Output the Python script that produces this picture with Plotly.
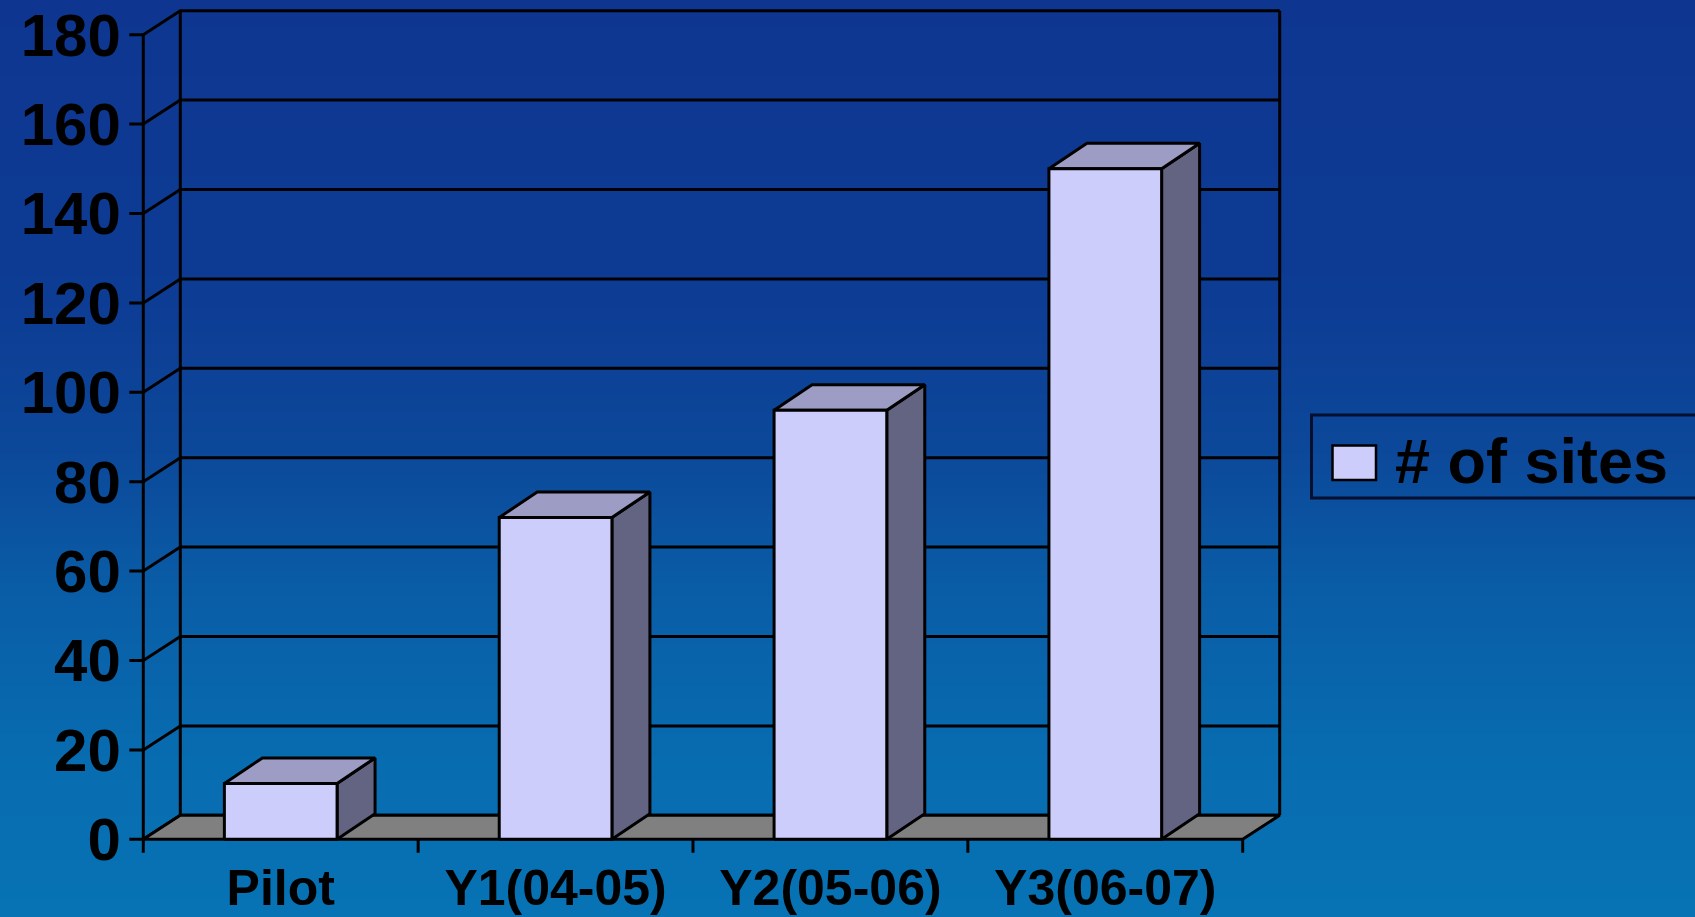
import base64
import struct
import zlib
import plotly.graph_objects as go

# ---------------- data ----------------
categories = ["Pilot", "Y1(04-05)", "Y2(05-06)", "Y3(06-07)"]
sites = [12.5, 72, 96, 150]
y_ticks = [0, 20, 40, 60, 80, 100, 120, 140, 160, 180]
series_name = "# of sites"

# ---------------- geometry (pixels of the 1695x917 page) ----------------
W, H = 1695, 917
X0_PX = 143.3      # front axis x
CAT_PX = 274.85    # width of one category
Y0_PX = 839.3      # value 0 on the front plane
UNIT_PX = 4.47     # pixels per value unit

WALL_DX = 37 / CAT_PX      # depth offset of walls (category units)
WALL_DY = 24 / UNIT_PX     # depth offset of walls (value units)
BAR_DX = 38 / CAT_PX
BAR_DY = 25.5 / UNIT_PX
BAR_HALF = 0.205
TICK_X = 14 / CAT_PX
TICK_Y = 13.5 / UNIT_PX

n = len(categories)
y_max = y_ticks[-1]
XR = [-0.06, n + WALL_DX + 0.03]
YR = [-3.1, y_max + WALL_DY + 1.2]

def px_x(u):
    return X0_PX + u * CAT_PX

def px_y(v):
    return Y0_PX - v * UNIT_PX

dom_x = [px_x(XR[0]) / W, px_x(XR[1]) / W]
dom_y = [(H - px_y(YR[0])) / H, (H - px_y(YR[1])) / H]

FONT = "Liberation Sans, Arial, sans-serif"
LW = 3
FRONT = "#CDCDFC"
TOP = "#9C9CC4"
SIDE = "#636382"
FLOOR = "#808080"

# ---------------- background gradient as an inline PNG ----------------
stops = [(0, (14, 54, 145)), (300, (13, 60, 148)), (450, (12, 72, 154)),
         (600, (9, 94, 167)), (760, (8, 108, 176)), (917, (7, 115, 180))]

def grad_png(h):
    raw = b""
    for y in range(h):
        for k in range(len(stops) - 1):
            y0, c0 = stops[k]
            y1, c1 = stops[k + 1]
            if y0 <= y <= y1:
                t = (y - y0) / (y1 - y0)
                c = tuple(int(round(c0[j] + (c1[j] - c0[j]) * t)) for j in range(3))
                break
        raw += b"\x00" + bytes(c) * 2

    def chunk(tag, data):
        return (struct.pack(">I", len(data)) + tag + data +
                struct.pack(">I", zlib.crc32(tag + data) & 0xFFFFFFFF))
    ihdr = struct.pack(">IIBBBBB", 2, h, 8, 2, 0, 0, 0)
    png = (b"\x89PNG\r\n\x1a\n" + chunk(b"IHDR", ihdr) +
           chunk(b"IDAT", zlib.compress(raw)) + chunk(b"IEND", b""))
    return "data:image/png;base64," + base64.b64encode(png).decode()

fig = go.Figure()

def lines(xs, ys):
    fig.add_trace(go.Scatter(x=xs, y=ys, mode="lines",
                             line=dict(color="black", width=LW),
                             hoverinfo="skip", showlegend=False))

def poly(xs, ys, color):
    fig.add_trace(go.Scatter(x=xs + [xs[0]], y=ys + [ys[0]], mode="lines",
                             fill="toself", fillcolor=color,
                             line=dict(color="black", width=LW),
                             hoverinfo="skip", showlegend=False))

# walls: gridlines on back wall, diagonals on side wall
gx, gy = [], []
for v in y_ticks:
    gx += [0, WALL_DX, n + WALL_DX, None]
    gy += [v, v + WALL_DY, v + WALL_DY, None]
# wall edges
gx += [0, 0, None, WALL_DX, WALL_DX, None, n + WALL_DX, n + WALL_DX, None]
gy += [0, y_max, None, WALL_DY, y_max + WALL_DY, None, WALL_DY, y_max + WALL_DY, None]
# y tick marks
for v in y_ticks:
    gx += [-TICK_X, 0, None]
    gy += [v, v, None]
# x tick marks (category boundaries)
for i in range(n + 1):
    gx += [i, i, None]
    gy += [0, -TICK_Y, None]
lines(gx, gy)

# floor
poly([0, n, n + WALL_DX, WALL_DX], [0, 0, WALL_DY, WALL_DY], FLOOR)

# bars
for i, v in enumerate(sites):
    c = i + 0.5
    l, r = c - BAR_HALF, c + BAR_HALF
    poly([r, r + BAR_DX, r + BAR_DX, r], [0, BAR_DY, v + BAR_DY, v], SIDE)
    poly([l, r, r + BAR_DX, l + BAR_DX], [v, v, v + BAR_DY, v + BAR_DY], TOP)
    poly([l, r, r, l], [0, 0, v, v], FRONT)

# ---------------- legend (drawn by hand to match the large key) ----------------
shapes = [
    dict(type="rect", xref="paper", yref="paper",
         x0=1311.5 / W, x1=1703 / W, y0=1 - 498 / H, y1=1 - 415 / H,
         line=dict(color="#050F2E", width=3), fillcolor="rgba(0,0,0,0)"),
    dict(type="rect", xref="paper", yref="paper",
         x0=1332.5 / W, x1=1376 / W, y0=1 - 480 / H, y1=1 - 445.5 / H,
         line=dict(color="black", width=2.5), fillcolor=FRONT),
]
annotations = [
    dict(xref="paper", yref="paper", x=1393 / W, y=1 - 461 / H,
         xanchor="left", yanchor="middle", text=series_name, showarrow=False,
         font=dict(family=FONT, size=63, color="black", weight="bold")),
]

fig.update_layout(
    width=W, height=H,
    margin=dict(l=0, r=0, t=0, b=0),
    paper_bgcolor="#0B4A9A",
    plot_bgcolor="rgba(0,0,0,0)",
    showlegend=False,
    shapes=shapes,
    annotations=annotations,
    images=[dict(source=grad_png(H), xref="paper", yref="paper", x=0, y=1,
                 sizex=1, sizey=1, xanchor="left", yanchor="top",
                 sizing="stretch", layer="below")],
    xaxis=dict(domain=dom_x, range=XR, showgrid=False, zeroline=False,
               showline=False, ticks="", tickvals=[i + 0.5 for i in range(n)],
               ticktext=categories, automargin=False, ticklabelstandoff=1,
               tickfont=dict(family=FONT, size=50, color="black", weight="bold")),
    yaxis=dict(domain=dom_y, range=YR, showgrid=False, zeroline=False,
               showline=False, ticks="", tickvals=y_ticks,
               ticktext=[str(t) for t in y_ticks], automargin=False,
               ticklabelstandoff=5,
               tickfont=dict(family=FONT, size=60, color="black", weight="bold")),
)

fig.write_html("out.html")
